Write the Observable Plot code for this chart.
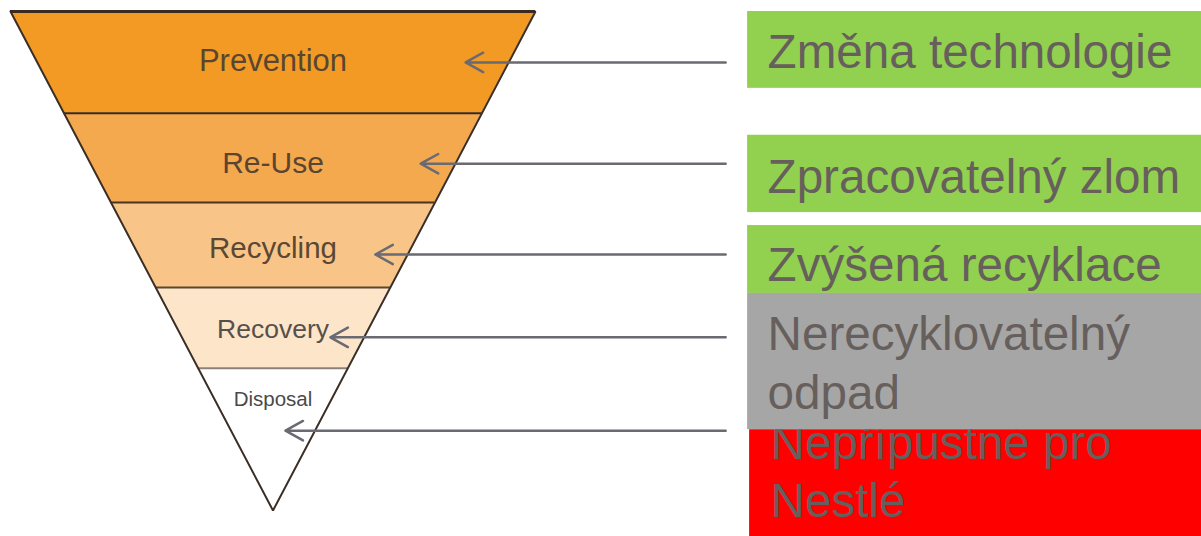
<!DOCTYPE html>
<html>
<head>
<meta charset="utf-8">
<script src="https://cdn.jsdelivr.net/npm/d3@7"></script>
<script src="https://cdn.jsdelivr.net/npm/@observablehq/plot@0.6"></script>
<style>
  html, body { margin: 0; padding: 0; background: #ffffff; }
  #chart svg { display: block; }
</style>
</head>
<body>
<div id="chart"></div>
<script>
// ---- Data (diagram units: depth 0 = top of pyramid, 100 = apex) ----
const levels = ["Prevention", "Re-Use", "Recycling", "Recovery", "Disposal"];
const levelBounds = [0, 20.4, 38.3, 55.3, 71.5, 100];
const levelLabelDepth = [12.0, 32.3, 49.3, 65.5, 79.0];
const levelFill = ["#F39A25", "#F5A94F", "#F9C487", "#FDE5C9", "#FFFFFF"];
const levelText = ["#5a4530", "#5a4530", "#5a4834", "#57504a", "#4a4a4a"];
const levelFont = [31, 30, 29.5, 26.5, 20.5];
const separatorColor = ["#3a2a1c", "#4a3522", "#5a4632", "#8c8078"];

const arrowDepth = [10.2, 30.5, 48.7, 65.3, 84.0];
const arrowTip = [38.6, 29.6, 20.5, 11.5, 2.5];
const arrowStart = 90.7;

const actions = ["Změna technologie", "Zpracovatelný zlom", "Zvýšená recyklace", "Nerecyklovatelný\nodpad", "Nepřípustné pro\nNestlé"];
const actionFill = ["#92D050", "#92D050", "#92D050", "#A6A6A6", "#FF0000"];
const actionTop = [0, 24.8, 42.9, 56.5, 83.8];
const actionBottom = [15.4, 40.3, 56.5, 83.8, 108];
const actionLeft = [95.1, 95.1, 95.1, 95.1, 95.5];
const actionBaseline = [11.4, 36.3, 54.1, 79.6, 101.4];

// ---- Geometry helpers ----
const halfTop = 52.6; // half-width of pyramid top in diagram units
const halfAt = d => halfTop * (100 - d) / 100;

const bandRows = levels.flatMap((name, i) => [
  {name, i, y: levelBounds[i], xl: -halfAt(levelBounds[i]), xr: halfAt(levelBounds[i])},
  {name, i, y: levelBounds[i + 1], xl: -halfAt(levelBounds[i + 1]), xr: halfAt(levelBounds[i + 1])}
]);
const separators = levelBounds.slice(1, -1).map((d, i) => ({y: d, xl: -halfAt(d), xr: halfAt(d), c: separatorColor[i]}));
const outline = [
  {x: -halfTop, y: 0}, {x: halfTop, y: 0}, {x: 0, y: 100}, {x: -halfTop, y: 0}
];
const labels = levels.map((name, i) => ({name, y: levelLabelDepth[i], c: levelText[i], s: levelFont[i]}));
const arrows = arrowDepth.map((d, i) => ({y: d, x1: arrowStart, x2: arrowTip[i]}));
const boxes = actions.map((t, i) => ({t, i, x1: actionLeft[i], x2: 190, y1: actionTop[i], y2: actionBottom[i], fill: actionFill[i], by: actionBaseline[i], tx: actionLeft[i] + 4.0 + (i === 4 ? 0.2 : 0)}));

const green = boxes.filter(b => b.i < 3);
const gray = boxes.filter(b => b.i === 3);
const red = boxes.filter(b => b.i === 4);

const textColor = "#675f5c";
const fontFamily = "'Liberation Sans', Arial, Helvetica, sans-serif";

const boxMarks = (arr) => [
  Plot.rect(arr, {x1: "x1", x2: "x2", y1: "y1", y2: "y2", fill: "fill"}),
  Plot.text(arr, {x: "tx", y: "by", text: "t", textAnchor: "start", lineAnchor: "bottom", lineHeight: 1.234, fontSize: 47.6, fill: textColor, fontFamily})
];

const chart = Plot.plot({
  width: 1201,
  height: 536,
  margin: 0,
  x: {domain: [-halfTop, halfTop], range: [10, 535], axis: null},
  y: {domain: [0, 100], range: [11, 510], axis: null},
  style: {background: "#ffffff", overflow: "visible", fontFamily},
  marks: [
    Plot.area(bandRows, {x1: "xl", x2: "xr", y1: "y", y2: "y", z: "name", fill: d => levelFill[d.i], curve: "linear"}),
    Plot.ruleY(separators, {y: "y", x1: "xl", x2: "xr", stroke: "c", strokeWidth: 2}),
    Plot.line(outline, {x: "x", y: "y", stroke: "#3a2e26", strokeWidth: 2, strokeLinejoin: "miter"}),
    Plot.ruleY([0], {x1: -halfTop, x2: halfTop, stroke: "#3a2a20", strokeWidth: 3}),
    Plot.text(labels, {x: 0, y: "y", text: "name", fill: "c", fontSize: "s", lineAnchor: "bottom", textAnchor: "middle", fontFamily}),
    Plot.arrow(arrows, {x1: "x1", y1: "y", x2: "x2", y2: "y", stroke: "#6a6a72", strokeWidth: 2.5, headLength: 12, headAngle: 58}),
    ...boxMarks(green),
    ...boxMarks(red),
    ...boxMarks(gray)
  ]
});

document.getElementById("chart").appendChild(chart);
</script>
</body>
</html>
